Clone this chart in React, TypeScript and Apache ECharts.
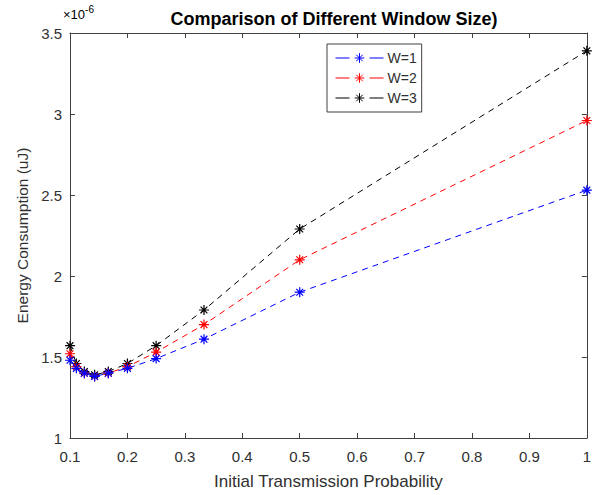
import React, { useEffect, useRef } from "react";
import * as echarts from "echarts";

const xValues = [0.1, 1 / 9, 1 / 8, 1 / 7, 1 / 6, 1 / 5, 1 / 4, 1 / 3, 1 / 2, 1];
const w1 = [1.48, 1.43, 1.4, 1.38, 1.4, 1.43, 1.49, 1.61, 1.9, 2.53];
const w2 = [1.52, 1.44, 1.4, 1.38, 1.4, 1.44, 1.53, 1.7, 2.1, 2.96];
const w3 = [1.57, 1.46, 1.41, 1.39, 1.41, 1.46, 1.57, 1.79, 2.29, 3.39];
const seriesNames = ["W=1", "W=2", "W=3"];
const seriesColors = ["#0000ff", "#ff0000", "#000000"];
const xTicks = [0.1, 0.2, 0.3, 0.4, 0.5, 0.6, 0.7, 0.8, 0.9, 1];
const yTicks = [1, 1.5, 2, 2.5, 3, 3.5];

const STAR = "path://M0,5L10,5M5,0L5,10M1.6,1.6L8.4,8.4M8.4,1.6L1.6,8.4";
const FONT = "Liberation Sans";
const AXIS_COLOR = "#404040";
const TEXT_COLOR = "#303030";

export default function App() {
  const ref = useRef<HTMLDivElement>(null);
  useEffect(() => {
    if (!ref.current) return;
    const chart = echarts.init(ref.current, undefined, { renderer: "svg" });
    const allData = [w1, w2, w3];
    const axisCommon = {
      axisLine: { show: true, lineStyle: { color: AXIS_COLOR, width: 1 } },
      axisTick: { show: true, inside: true, length: 5, lineStyle: { color: AXIS_COLOR } },
      splitLine: { show: false },
    };
    chart.setOption({
      animation: false,
      backgroundColor: "#ffffff",
      textStyle: { fontFamily: FONT },
      title: {
        text: "Comparison of Different Window Size)",
        left: 329,
        textAlign: "center",
        top: 5,
        textStyle: { fontFamily: FONT, fontSize: 18, fontWeight: "bold", color: "#000" },
      },
      grid: { left: 70, right: 6, top: 33, bottom: 54, containLabel: false },
      legend: {
        orient: "vertical",
        left: 327,
        top: 44,
        itemWidth: 48,
        itemHeight: 12,
        itemGap: 6,
        padding: [7, 5, 7, 8],
        borderColor: AXIS_COLOR,
        borderWidth: 1,
        backgroundColor: "#ffffff",
        textStyle: { fontFamily: FONT, fontSize: 14, color: TEXT_COLOR, padding: [0, 0, 0, -1] },
        lineStyle: { type: [14, 20, 14], width: 1 },
        itemStyle: { borderWidth: 1 },
        data: seriesNames,
      },
      xAxis: [
        {
          type: "value",
          min: 0.1,
          max: 1,
          interval: 0.1,
          name: "Initial Transmission Probability",
          nameLocation: "middle",
          nameGap: 35,
          nameTextStyle: { fontFamily: FONT, fontSize: 17, color: TEXT_COLOR },
          axisLabel: {
            margin: 11,
            fontFamily: FONT,
            fontSize: 15,
            color: TEXT_COLOR,
            formatter: (v: number) => {
              const t = xTicks.find((k) => Math.abs(k - v) < 1e-9);
              return t === undefined ? "" : String(t);
            },
          },
          ...axisCommon,
        },
        {
          type: "value",
          position: "top",
          min: 0.1,
          max: 1,
          interval: 0.1,
          axisLabel: { show: false },
          ...axisCommon,
        },
      ],
      yAxis: [
        {
          type: "value",
          min: 1,
          max: 3.5,
          interval: 0.5,
          name: "Energy Consumption (uJ)",
          nameLocation: "middle",
          nameGap: 36,
          nameTextStyle: { fontFamily: FONT, fontSize: 15.5, color: TEXT_COLOR },
          axisLabel: {
            margin: 8,
            fontFamily: FONT,
            fontSize: 15,
            color: TEXT_COLOR,
            formatter: (v: number) => {
              const t = yTicks.find((k) => Math.abs(k - v) < 1e-9);
              return t === undefined ? "" : String(t);
            },
          },
          ...axisCommon,
        },
        {
          type: "value",
          position: "right",
          min: 1,
          max: 3.5,
          interval: 0.5,
          axisLabel: { show: false },
          ...axisCommon,
        },
      ],
      graphic: [
        {
          type: "text",
          left: 63,
          top: 4,
          style: {
            text: "{a|×10}{b|-6}",
            rich: {
              a: { fontFamily: FONT, fontSize: 13, color: TEXT_COLOR, padding: [7, 0, 0, 0] },
              b: { fontFamily: FONT, fontSize: 10, color: TEXT_COLOR, padding: [0, 0, 4, 0] },
            },
          },
        },
      ],
      series: seriesNames.map((name, i) => ({
        name,
        type: "line",
        data: xValues.map((x, j) => [x, allData[i][j]]),
        symbol: STAR,
        symbolSize: 10,
        showSymbol: true,
        color: seriesColors[i],
        itemStyle: { color: seriesColors[i], borderColor: seriesColors[i], borderWidth: 1.2 },
        lineStyle: { color: seriesColors[i], width: 1, type: [6, 5] },
        emphasis: { disabled: true },
        z: 3 - i,
      })),
    });
    return () => chart.dispose();
  }, []);
  return <div ref={ref} style={{ width: 594, height: 495, position: "absolute", left: 0, top: 0 }} />;
}
